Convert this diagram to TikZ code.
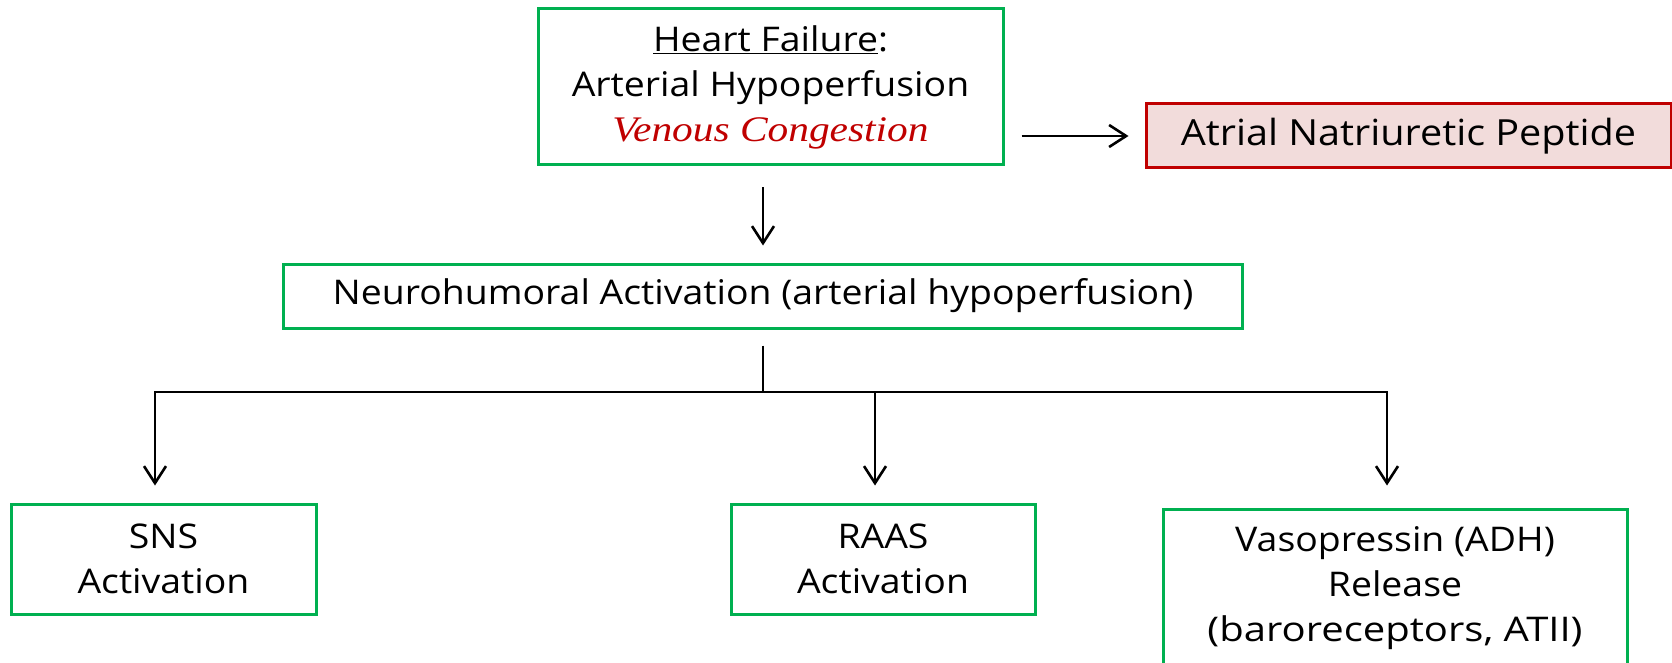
\documentclass[tikz,border=0pt]{standalone}
\usepackage{fontspec}
\setmainfont[FakeStretch=1.1]{Open Sans}
\newfontfamily\venfont[FakeStretch=1.15]{Liberation Serif}
\usetikzlibrary{arrows.meta}
\definecolor{hfgreen}{HTML}{00B050}
\definecolor{hfred}{HTML}{C00000}
\definecolor{hfpink}{HTML}{F2DCDB}
\begin{document}
\begin{tikzpicture}[x=1pt,y=-1pt,
  box/.style={draw=hfgreen, line width=3pt, rectangle, inner sep=0pt, align=center,
    font=\fontsize{34}{45}\selectfont},
  redbox/.style={box, draw=hfred, fill=hfpink, font=\fontsize{36}{45}\selectfont},
  conn/.style={line width=2.6pt},
  arr/.style={conn, -{Straight Barb[length=17pt,width=22pt,line width=2.6pt]}}]
\useasboundingbox (0,0) rectangle (1672,663);
\fill[white] (0,0) rectangle (1672,663);

\node[box, minimum width=465pt, minimum height=156pt] (top) at (770.5,87)
  {\underline{Heart Failure}:\\Arterial Hypoperfusion\\
   \textcolor{hfred}{\venfont\itshape\fontsize{36}{45}\selectfont Venous Congestion}};
\node[redbox, minimum width=525pt, minimum height=64pt] (anp) at (1408.5,136)
  {Atrial Natriuretic Peptide};
\node[box, minimum width=959pt, minimum height=64pt] (neuro) at (763,296)
  {Neurohumoral Activation (arterial hypoperfusion)};
\node[box, minimum width=305pt, minimum height=110pt] (sns) at (163.5,559)
  {SNS\\Activation};
\node[box, minimum width=304pt, minimum height=110pt] (raas) at (883,559)
  {RAAS\\Activation};
\node[box, minimum width=464pt, minimum height=159pt] (vaso) at (1395,588.5)
  {Vasopressin (ADH)\\Release\\\scalebox{1.07}[1]{(baroreceptors, ATII)}};

\coordinate (hub) at (763,392);
\coordinate (bl) at (155,392);
\coordinate (bm) at (875,392);
\coordinate (br) at (1387,392);

\draw[arr] ([yshift=-21pt]top.south -| neuro.north) -- ([yshift=17pt]neuro.north);
\draw[arr] ([xshift=17pt]top.east |- anp.west) -- ([xshift=-16pt]anp.west);
\draw[conn] ([yshift=-16pt]neuro.south) -- (hub);
\draw[arr] (hub) -| ([yshift=17pt]sns.north -| bl);
\draw[arr] (hub) -| ([yshift=17pt]sns.north -| br);
\draw[arr] (bm) -- ([yshift=17pt]sns.north -| bm);
\end{tikzpicture}
\end{document}
